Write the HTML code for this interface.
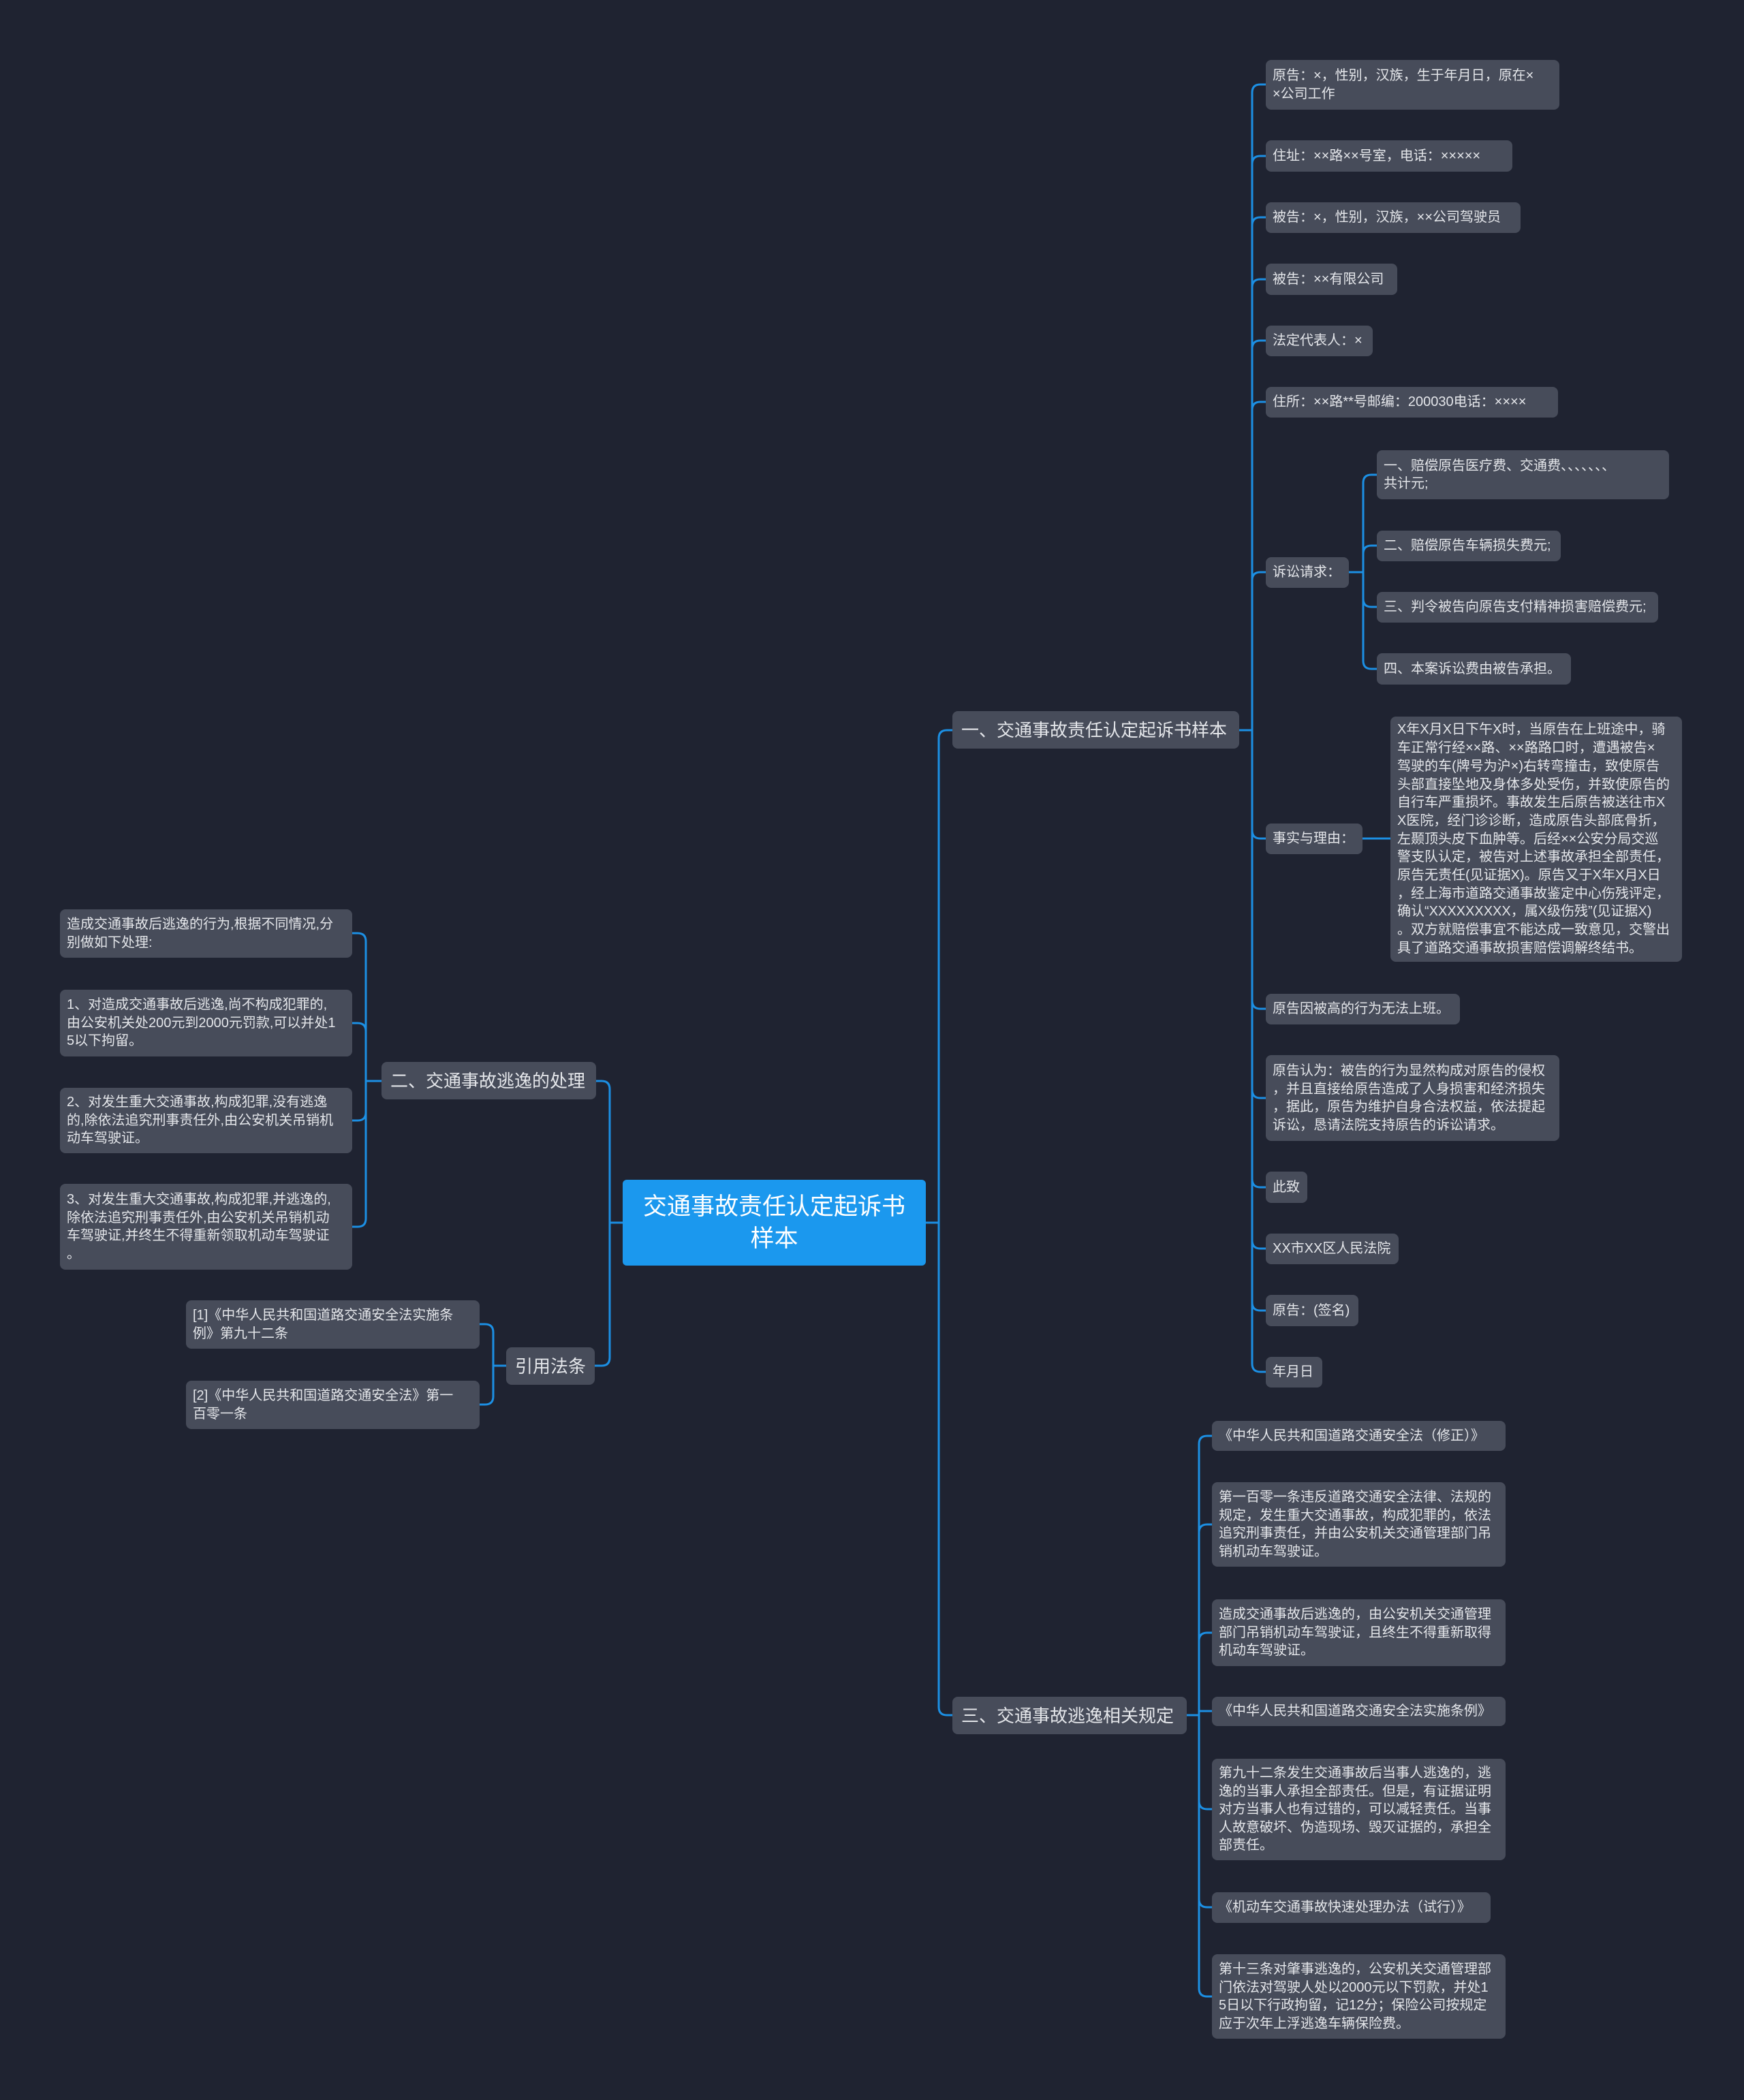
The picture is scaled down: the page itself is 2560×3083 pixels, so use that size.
<!DOCTYPE html>
<html><head><meta charset="utf-8">
<style>
html,body{margin:0;padding:0;}
body{width:2560px;height:3083px;background:#1f2331;position:relative;overflow:hidden;font-family:"Liberation Sans","Noto Sans CJK SC",sans-serif;}
.n{position:absolute;box-sizing:border-box;background:#474c5a;border-radius:8px;color:#e4e6ea;font-size:20px;line-height:26.5px;padding:0 10px;white-space:nowrap;display:flex;flex-direction:column;justify-content:center;}
.b{font-size:26px;line-height:34px;padding:0 13px;}
.root{background:#1b98ee;color:#fff;font-size:35px;line-height:47px;text-align:center;align-items:center;border-radius:6px;}
svg{position:absolute;left:0;top:0;}
</style></head><body>
<svg width="2560" height="3083" fill="none" stroke="#1c8fe3" stroke-width="3">
<path d="M1359 1795 H1378 V1084 Q1378 1072 1390 1072 H1398"/>
<path d="M1359 1795 H1378 V2506 Q1378 2518 1390 2518 H1398"/>
<path d="M1819 1072 H1838 V136 Q1838 124 1850 124 H1858"/>
<path d="M1819 1072 H1838 V241 Q1838 229 1850 229 H1858"/>
<path d="M1819 1072 H1838 V331 Q1838 319 1850 319 H1858"/>
<path d="M1819 1072 H1838 V422 Q1838 410 1850 410 H1858"/>
<path d="M1819 1072 H1838 V512 Q1838 500 1850 500 H1858"/>
<path d="M1819 1072 H1838 V602 Q1838 590 1850 590 H1858"/>
<path d="M1819 1072 H1838 V852 Q1838 840 1850 840 H1858"/>
<path d="M1819 1072 H1838 V1219 Q1838 1231 1850 1231 H1858"/>
<path d="M1819 1072 H1838 V1469 Q1838 1481 1850 1481 H1858"/>
<path d="M1819 1072 H1838 V1600 Q1838 1612 1850 1612 H1858"/>
<path d="M1819 1072 H1838 V1731 Q1838 1743 1850 1743 H1858"/>
<path d="M1819 1072 H1838 V1821 Q1838 1833 1850 1833 H1858"/>
<path d="M1819 1072 H1838 V1912 Q1838 1924 1850 1924 H1858"/>
<path d="M1819 1072 H1838 V2002 Q1838 2014 1850 2014 H1858"/>
<path d="M1980 840 H2001 V709 Q2001 697 2013 697 H2021"/>
<path d="M1980 840 H2001 V813 Q2001 801 2013 801 H2021"/>
<path d="M1980 840 H2001 V879 Q2001 891 2013 891 H2021"/>
<path d="M1980 840 H2001 V970 Q2001 982 2013 982 H2021"/>
<path d="M2000 1231 H2041"/>
<path d="M1742 2518 H1760 V2120 Q1760 2108 1772 2108 H1779"/>
<path d="M1742 2518 H1760 V2250 Q1760 2238 1772 2238 H1779"/>
<path d="M1742 2518 H1760 V2409 Q1760 2397 1772 2397 H1779"/>
<path d="M1742 2518 H1760 V2512 H1779"/>
<path d="M1742 2518 H1760 V2644 Q1760 2656 1772 2656 H1779"/>
<path d="M1742 2518 H1760 V2788 Q1760 2800 1772 2800 H1779"/>
<path d="M1742 2518 H1760 V2919 Q1760 2931 1772 2931 H1779"/>
<path d="M914 1795 H895 V1599 Q895 1587 883 1587 H875"/>
<path d="M914 1795 H895 V1993 Q895 2005 883 2005 H873"/>
<path d="M560 1587 H537 V1382 Q537 1370 525 1370 H517"/>
<path d="M560 1587 H537 V1514 Q537 1502 525 1502 H517"/>
<path d="M560 1587 H537 V1633 Q537 1645 525 1645 H517"/>
<path d="M560 1587 H537 V1789 Q537 1801 525 1801 H517"/>
<path d="M743 2005 H724 V1956 Q724 1944 712 1944 H704"/>
<path d="M743 2005 H724 V2050 Q724 2062 712 2062 H704"/>
</svg>

<div class="n root" style="left:914px;top:1732px;width:445px;height:126px;">交通事故责任认定起诉书<br>样本</div>

<div class="n b" style="left:1398px;top:1044px;width:421px;height:55px;">一、交通事故责任认定起诉书样本</div>
<div class="n b" style="left:1398px;top:2491px;width:344px;height:55px;">三、交通事故逃逸相关规定</div>
<div class="n b" style="left:560px;top:1559px;width:315px;height:55px;">二、交通事故逃逸的处理</div>
<div class="n b" style="left:743px;top:1978px;width:130px;height:55px;">引用法条</div>

<div class="n" style="left:1858px;top:88px;width:431px;height:73px;">原告：×，性别，汉族，生于年月日，原在×<br>×公司工作</div>
<div class="n" style="left:1858px;top:206px;width:362px;height:46px;">住址：××路××号室，电话：×××××</div>
<div class="n" style="left:1858px;top:297px;width:374px;height:45px;">被告：×，性别，汉族，××公司驾驶员</div>
<div class="n" style="left:1858px;top:387px;width:193px;height:46px;">被告：××有限公司</div>
<div class="n" style="left:1858px;top:478px;width:157px;height:45px;">法定代表人：×</div>
<div class="n" style="left:1858px;top:568px;width:429px;height:45px;">住所：××路**号邮编：200030电话：××××</div>
<div class="n" style="left:1858px;top:818px;width:122px;height:45px;">诉讼请求：</div>
<div class="n" style="left:2021px;top:661px;width:429px;height:72px;">一、赔偿原告医疗费、交通费、、、、、、、<br>共计元;</div>
<div class="n" style="left:2021px;top:779px;width:270px;height:45px;">二、赔偿原告车辆损失费元;</div>
<div class="n" style="left:2021px;top:869px;width:413px;height:45px;">三、判令被告向原告支付精神损害赔偿费元;</div>
<div class="n" style="left:2021px;top:959px;width:285px;height:46px;">四、本案诉讼费由被告承担。</div>
<div class="n" style="left:1858px;top:1209px;width:142px;height:45px;">事实与理由：</div>
<div class="n" style="left:2041px;top:1052px;width:428px;height:360px;line-height:26.7px;">X年X月X日下午X时，当原告在上班途中，骑<br>车正常行经××路、××路路口时，遭遇被告×<br>驾驶的车(牌号为沪×)右转弯撞击，致使原告<br>头部直接坠地及身体多处受伤，并致使原告的<br>自行车严重损坏。事故发生后原告被送往市X<br>X医院，经门诊诊断，造成原告头部底骨折，<br>左颞顶头皮下血肿等。后经××公安分局交巡<br>警支队认定，被告对上述事故承担全部责任，<br>原告无责任(见证据X)。原告又于X年X月X日<br>，经上海市道路交通事故鉴定中心伤残评定，<br>确认“XXXXXXXXX，属X级伤残”(见证据X)<br>。双方就赔偿事宜不能达成一致意见，交警出<br>具了道路交通事故损害赔偿调解终结书。</div>
<div class="n" style="left:1858px;top:1459px;width:285px;height:45px;">原告因被高的行为无法上班。</div>
<div class="n" style="left:1858px;top:1549px;width:431px;height:126px;">原告认为：被告的行为显然构成对原告的侵权<br>，并且直接给原告造成了人身损害和经济损失<br>，据此，原告为维护自身合法权益，依法提起<br>诉讼，恳请法院支持原告的诉讼请求。</div>
<div class="n" style="left:1858px;top:1720px;width:61px;height:46px;">此致</div>
<div class="n" style="left:1858px;top:1811px;width:195px;height:45px;">XX市XX区人民法院</div>
<div class="n" style="left:1858px;top:1901px;width:136px;height:46px;">原告：(签名)</div>
<div class="n" style="left:1858px;top:1992px;width:83px;height:45px;">年月日</div>

<div class="n" style="left:1779px;top:2086px;width:431px;height:44px;">《中华人民共和国道路交通安全法（修正）》</div>
<div class="n" style="left:1779px;top:2176px;width:431px;height:124px;">第一百零一条违反道路交通安全法律、法规的<br>规定，发生重大交通事故，构成犯罪的，依法<br>追究刑事责任，并由公安机关交通管理部门吊<br>销机动车驾驶证。</div>
<div class="n" style="left:1779px;top:2348px;width:431px;height:98px;">造成交通事故后逃逸的，由公安机关交通管理<br>部门吊销机动车驾驶证，且终生不得重新取得<br>机动车驾驶证。</div>
<div class="n" style="left:1779px;top:2491px;width:431px;height:43px;">《中华人民共和国道路交通安全法实施条例》</div>
<div class="n" style="left:1779px;top:2582px;width:431px;height:149px;">第九十二条发生交通事故后当事人逃逸的，逃<br>逸的当事人承担全部责任。但是，有证据证明<br>对方当事人也有过错的，可以减轻责任。当事<br>人故意破坏、伪造现场、毁灭证据的，承担全<br>部责任。</div>
<div class="n" style="left:1779px;top:2778px;width:409px;height:45px;">《机动车交通事故快速处理办法（试行）》</div>
<div class="n" style="left:1779px;top:2869px;width:431px;height:124px;">第十三条对肇事逃逸的，公安机关交通管理部<br>门依法对驾驶人处以2000元以下罚款，并处1<br>5日以下行政拘留，记12分；保险公司按规定<br>应于次年上浮逃逸车辆保险费。</div>

<div class="n" style="left:88px;top:1335px;width:429px;height:71px;">造成交通事故后逃逸的行为,根据不同情况,分<br>别做如下处理:</div>
<div class="n" style="left:88px;top:1453px;width:429px;height:98px;">1、对造成交通事故后逃逸,尚不构成犯罪的,<br>由公安机关处200元到2000元罚款,可以并处1<br>5以下拘留。</div>
<div class="n" style="left:88px;top:1597px;width:429px;height:96px;">2、对发生重大交通事故,构成犯罪,没有逃逸<br>的,除依法追究刑事责任外,由公安机关吊销机<br>动车驾驶证。</div>
<div class="n" style="left:88px;top:1738px;width:429px;height:126px;">3、对发生重大交通事故,构成犯罪,并逃逸的,<br>除依法追究刑事责任外,由公安机关吊销机动<br>车驾驶证,并终生不得重新领取机动车驾驶证<br>。</div>
<div class="n" style="left:273px;top:1909px;width:431px;height:71px;">[1]《中华人民共和国道路交通安全法实施条<br>例》第九十二条</div>
<div class="n" style="left:273px;top:2027px;width:431px;height:71px;">[2]《中华人民共和国道路交通安全法》第一<br>百零一条</div>
</body></html>
